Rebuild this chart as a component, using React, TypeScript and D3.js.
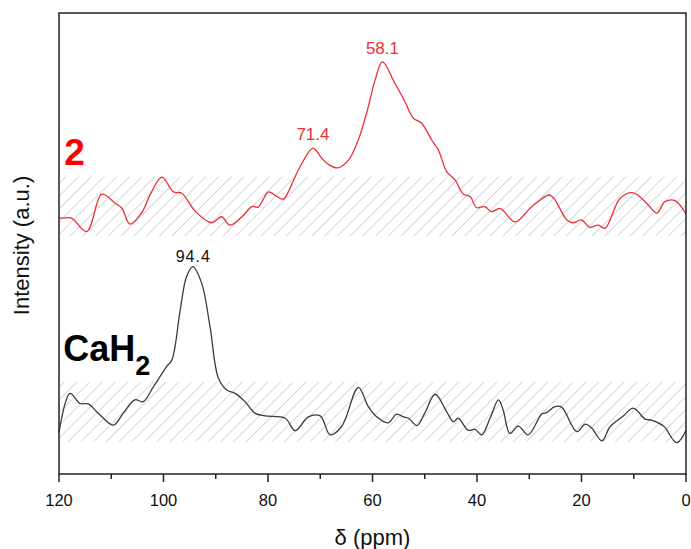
import React from "react";
import * as d3 from "d3";

// ppm positions and intensities (arbitrary units) for sample 2 (red, upper)
const ppm2 = [120, 119.5, 117.6, 114.7, 111.8, 109.3, 108.0, 106.4, 104.2, 102.3, 100.3, 98.1, 96.5, 94.0, 90.8, 88.9, 87.3, 85.0, 83.1, 81.9, 79.9, 78.7, 77.1, 76.1, 74.8, 73.5, 71.4, 69.7, 68.5, 66.7, 64.6, 62.7, 60.8, 59.5, 58.1, 55.7, 53.8, 52.2, 50.6, 48.7, 47.4, 45.8, 44.2, 42.6, 41.3, 40.1, 38.5, 37.2, 35.6, 32.7, 29.9, 28.3, 26.0, 22.8, 21.6, 20.0, 18.4, 16.8, 15.5, 12.6, 10.1, 7.5, 5.6, 4.0, 2.1, 0];
const int2 = [55.7, 55.5, 55.5, 52.6, 60.7, 58.8, 57.7, 54.2, 56.6, 61.2, 64.4, 61.2, 60.9, 57.1, 54.5, 55.8, 54.0, 55.8, 58.0, 57.9, 61.2, 60.5, 59.6, 61.2, 64.5, 67.4, 70.7, 68.5, 67.2, 66.4, 68.1, 72.5, 79.7, 85.5, 89.4, 84.7, 80.8, 77.2, 76.1, 72.5, 70.3, 65.6, 63.8, 60.7, 60.2, 57.8, 58.0, 56.9, 57.6, 54.7, 57.6, 59.1, 60.5, 55.1, 54.5, 55.1, 53.5, 54.0, 53.3, 59.8, 61.0, 58.7, 56.6, 59.1, 59.3, 56.4];

// CaH2 (black, lower)
const ppmCa = [120, 117.9, 116.0, 114.4, 112.5, 109.6, 107.7, 105.5, 103.9, 102.0, 99.4, 98.4, 96.8, 95.6, 94.4, 92.7, 91.1, 89.5, 87.9, 86.3, 84.4, 82.5, 80.6, 76.7, 74.8, 72.3, 70.0, 68.1, 65.9, 62.7, 60.8, 59.2, 57.0, 55.4, 54.1, 53.1, 51.5, 50.0, 48.0, 45.8, 44.5, 43.6, 41.7, 40.4, 39.1, 37.5, 35.9, 35.0, 33.7, 32.1, 30.2, 27.6, 26.7, 25.1, 23.8, 20.9, 19.3, 18.0, 16.1, 14.5, 12.0, 10.1, 7.8, 6.6, 4.3, 1.8, 0];
const intCa = [9.0, 17.5, 15.3, 15.2, 13.2, 10.6, 13.2, 16.1, 15.7, 18.8, 23.3, 24.7, 35.6, 42.8, 45.0, 41.4, 32.0, 20.8, 18.2, 17.5, 15.7, 13.2, 12.6, 12.1, 9.4, 12.4, 12.6, 8.5, 10.3, 18.8, 14.6, 12.4, 11.1, 13.0, 12.4, 12.1, 10.5, 13.2, 17.3, 13.5, 11.3, 12.1, 9.5, 9.7, 8.5, 12.1, 16.1, 13.9, 8.8, 10.4, 8.5, 13.0, 13.3, 14.6, 14.5, 9.2, 10.8, 9.9, 7.2, 10.3, 12.6, 14.3, 11.9, 11.7, 10.4, 6.8, 9.5];

// hatched noise bands [low, high]
const band2 = [51.6, 64.5];
const bandCa = [7.0, 20.0];

const xTicks = [120, 100, 80, 60, 40, 20, 0];
const xMinorTicks = [110, 90, 70, 50, 30, 10];

const peakLabels2 = [
  { ppm: 58.1, v: 89.4, text: "58.1" },
  { ppm: 71.4, v: 70.7, text: "71.4" },
];
const peakLabelsCa = [{ ppm: 94.4, v: 45.0, text: "94.4" }];

const W = 691, H = 549;
const margin = { left: 59, right: 5, top: 13, bottom: 75 };
const FONT = "'Liberation Sans', Arial, sans-serif";
const RED = "#eb2f35";
const DARK = "#3a3a3a";

export default function App() {
  const x = d3.scaleLinear().domain([120, 0]).range([margin.left, W - margin.right]);
  const y = d3.scaleLinear().domain([0, 100]).range([H - margin.bottom, margin.top]);
  const line = d3
    .line<[number, number]>()
    .x((d) => x(d[0]))
    .y((d) => y(d[1]))
    .curve(d3.curveCatmullRom.alpha(0.5));
  const d2 = line(ppm2.map((p, i) => [p, int2[i]] as [number, number])) || "";
  const dCa = line(ppmCa.map((p, i) => [p, intCa[i]] as [number, number])) || "";
  const x0 = x(120), x1 = x(0);
  const yBot = y(0), yTop = y(100);

  return (
    <svg
      width={W}
      height={H}
      style={{ position: "absolute", left: 0, top: 0, background: "#fff" }}
      fontFamily={FONT}
    >
      <defs>
        <pattern
          id="hatch"
          patternUnits="userSpaceOnUse"
          width={9}
          height={9}
          patternTransform="rotate(45)"
        >
          <line x1={0} y1={0} x2={0} y2={9} stroke="#b5b5b5" strokeWidth={1.1} />
        </pattern>
      </defs>
      <rect x={x0} y={y(band2[1])} width={x1 - x0} height={y(band2[0]) - y(band2[1])} fill="url(#hatch)" />
      <rect x={x0} y={y(bandCa[1])} width={x1 - x0} height={y(bandCa[0]) - y(bandCa[1])} fill="url(#hatch)" />

      <path d={d2} fill="none" stroke={RED} strokeWidth={1.3} />
      <path d={dCa} fill="none" stroke={DARK} strokeWidth={1.3} />

      {peakLabels2.map((p) => (
        <text key={p.text} x={x(p.ppm)} y={y(p.v) - 8} textAnchor="middle" fontSize={17} fill={RED}>
          {p.text}
        </text>
      ))}
      {peakLabelsCa.map((p) => (
        <text key={p.text} x={x(p.ppm) + 0.5} y={y(p.v) - 5} textAnchor="middle" fontSize={16} letterSpacing={1} fill="#111">
          {p.text}
        </text>
      ))}

      <text x={x(119)} y={y(67.0)} fontSize={37} fontWeight="bold" fill="#ff0000">2</text>
      <text x={x(119.2)} y={y(24.5)} fontSize={36} fontWeight="bold" fill="#000">
        CaH<tspan fontSize={27} dy={14}>2</tspan>
      </text>

      {/* frame */}
      <rect x={x0} y={yTop} width={x1 - x0} height={yBot - yTop} fill="none" stroke="#222" strokeWidth={1.5} />

      {xTicks.map((t) => (
        <g key={t}>
          <line x1={x(t)} x2={x(t)} y1={yBot} y2={yBot + 8} stroke="#222" strokeWidth={1.5} />
          <text x={x(t)} y={yBot + 32} textAnchor="middle" fontSize={16.5} fill="#111">{t}</text>
        </g>
      ))}
      {xMinorTicks.map((t) => (
        <line key={t} x1={x(t)} x2={x(t)} y1={yBot} y2={yBot + 5} stroke="#222" strokeWidth={1.5} />
      ))}

      <text x={(x0 + x1) / 2} y={545} textAnchor="middle" fontSize={22} fill="#111">δ (ppm)</text>
      <text
        transform={`translate(29, ${(yTop + yBot) / 2 + 2}) rotate(-90)`}
        textAnchor="middle"
        fontSize={22}
        fill="#111"
      >
        Intensity (a.u.)
      </text>
    </svg>
  );
}
